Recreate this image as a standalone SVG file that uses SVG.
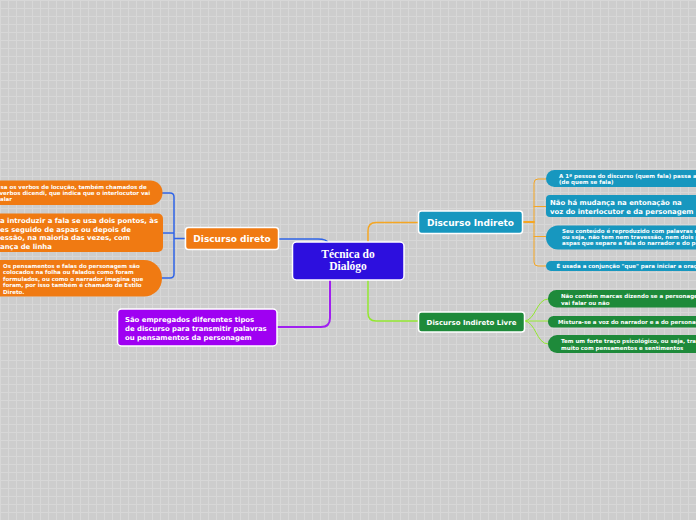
<svg xmlns="http://www.w3.org/2000/svg" width="696" height="520" viewBox="0 0 696 520">
<defs>
<pattern id="grid" width="8" height="8" patternUnits="userSpaceOnUse">
<rect width="8" height="8" fill="#cdcdcd"/>
<path d="M0 0.5H8M0.5 0V8" stroke="#d7d7d7" stroke-width="1"/>
</pattern>
</defs>
<style>
.t{font-family:"DejaVu Sans",Verdana,sans-serif;font-weight:bold;fill:#fff}
.s{font-size:5.5px}
.m{font-size:6.9px}
.main{stroke:#fff;stroke-width:1.5}
.c{fill:none;stroke-linecap:round}
</style>
<rect width="696" height="520" fill="url(#grid)"/>

<g id="connectors">
<path class="c" d="M278 239H318Q327 239 328 243" stroke="#2f64e8" stroke-width="1.5"/>
<path class="c" d="M185 238.5H174M162 193H170Q174 193 174 197V274Q174 278 170 278H162M162 233H174" stroke="#2f64e8" stroke-width="1.5"/>
<path class="c" d="M330 280V318Q330 327 321 327H277" stroke="#a020f0" stroke-width="2"/>
<path class="c" d="M368 242V231Q368 222.5 376 222.5H418" stroke="#f5a623" stroke-width="1.5"/>
<path class="c" d="M368 280V313Q368 321 376 321H418" stroke="#93e830" stroke-width="1.5"/>
<path class="c" d="M522 222H534" stroke="#f5a623" stroke-width="2"/>
<path class="c" d="M546 179H538Q534 179 534 183V262Q534 266 538 266H546M534 206.5H546M534 236.5H546" stroke="#f5a623" stroke-width="1"/>
<path class="c" d="M524 321C536 321 536 299 548 299M524 321H548M524 321C536 321 536 344 548 344" stroke="#93e830" stroke-width="1"/>
</g>

<g id="center">
<rect class="main" x="292.5" y="242" width="111.5" height="38" rx="4" fill="#2d0fde"/>
<text x="348" y="258" text-anchor="middle" font-family="'Liberation Serif',serif" font-weight="bold" font-size="11.5" fill="#fff">Técnica do</text>
<text x="348" y="269.5" text-anchor="middle" font-family="'Liberation Serif',serif" font-weight="bold" font-size="11.5" fill="#fff">Dialógo</text>
</g>

<g id="discurso-direto">
<rect class="main" x="185.5" y="227.5" width="93" height="22" rx="3" fill="#f07a12"/>
<text class="t" x="232" y="242" text-anchor="middle" font-size="9">Discurso direto</text>
</g>

<g id="direto-1">
<rect x="-20" y="180.5" width="182.5" height="24.5" rx="12" fill="#f07a12"/>
<text class="t s"><tspan x="0.5" y="188.5">sa os verbos de locução, também chamados de</tspan><tspan x="-0.5" y="194.5">verbos dicendi, que indica que o interlocutor vai</tspan><tspan x="0" y="200.5">alar</tspan></text>
</g>

<g id="direto-2">
<rect x="-10" y="213.5" width="173" height="38.5" rx="5" fill="#f07a12"/>
<text class="t m"><tspan x="0" y="223">a introduzir a fala se usa dois pontos, às</tspan><tspan x="0" y="231.5">es seguido de aspas ou  depois de</tspan><tspan x="0" y="240">essão, na maioria das vezes, com</tspan><tspan x="0" y="248.5">ança de linha</tspan></text>
</g>

<g id="direto-3">
<rect x="-20" y="260" width="182" height="36.5" rx="18" fill="#f07a12"/>
<text class="t s"><tspan x="3" y="267.5">Os pensamentos e falas do personagem são</tspan><tspan x="3" y="274">colocados na folha ou falados como foram</tspan><tspan x="3" y="280.5">formulados, ou como o narrador imagina que</tspan><tspan x="3" y="287">foram, por isso também é chamado de Estilo</tspan><tspan x="3" y="293.5">Direto.</tspan></text>
</g>

<g id="tipos">
<rect class="main" x="117.5" y="309" width="159.5" height="37" rx="4" fill="#9f00f2"/>
<text class="t" font-size="6.9"><tspan x="125" y="321.5">São empregados diferentes tipos</tspan><tspan x="125" y="330.5">de discurso para transmitir palavras</tspan><tspan x="125" y="339.5">ou pensamentos da personagem</tspan></text>
</g>

<g id="discurso-indireto">
<rect class="main" x="418.5" y="211" width="104" height="22.5" rx="3" fill="#1797bf"/>
<text class="t" x="470.5" y="225.5" text-anchor="middle" font-size="9">Discurso Indireto</text>
</g>

<g id="indireto-1">
<rect x="546" y="170" width="170" height="17" rx="8.5" fill="#1797bf"/>
<text class="t s"><tspan x="559" y="177.7">A 1ª pessoa do discurso (quem fala) passa a</tspan><tspan x="559" y="184">(de quem se fala)</tspan></text>
</g>

<g id="indireto-2">
<rect x="546" y="195" width="170" height="22" rx="4" fill="#1797bf"/>
<text class="t m"><tspan x="550" y="205">Não há mudança na entonação na</tspan><tspan x="550" y="213.5">voz do interlocutor e da personagem</tspan></text>
</g>

<g id="indireto-3">
<rect x="546" y="225.5" width="170" height="24" rx="12" fill="#1797bf"/>
<text class="t s"><tspan x="562" y="233">Seu conteúdo é reproduzido com palavras d</tspan><tspan x="562" y="239">ou seja, não tem nem travessão, nem dois p</tspan><tspan x="562" y="245">aspas que separe a fala do narrador e do pe</tspan></text>
</g>

<g id="indireto-4">
<rect x="546" y="261" width="170" height="10" rx="5" fill="#1797bf"/>
<text class="t s" x="556.5" y="268">É usada a conjunção "que" para iniciar a oraç</text>
</g>

<g id="indireto-livre">
<rect class="main" x="418.5" y="312" width="106" height="20" rx="3" fill="#1e8a3a"/>
<text class="t" x="471.5" y="324.5" text-anchor="middle" font-size="7">Discurso Indireto Livre</text>
</g>

<g id="livre-1">
<rect x="548" y="290" width="170" height="17.5" rx="8.5" fill="#1e8a3a"/>
<text class="t s"><tspan x="561" y="298">Não contém marcas dizendo se a personage</tspan><tspan x="561" y="305">vai falar ou não</tspan></text>
</g>

<g id="livre-2">
<rect x="548" y="316" width="170" height="11.5" rx="5.5" fill="#1e8a3a"/>
<text class="t s" x="558" y="324.3">Mistura-se a voz do narrador e a do personag</text>
</g>

<g id="livre-3">
<rect x="548" y="335" width="170" height="18" rx="9" fill="#1e8a3a"/>
<text class="t s"><tspan x="561" y="343">Tem um forte traço psicológico, ou seja, tra</tspan><tspan x="561" y="350">muito com pensamentos e sentimentos</tspan></text>
</g>
</svg>
